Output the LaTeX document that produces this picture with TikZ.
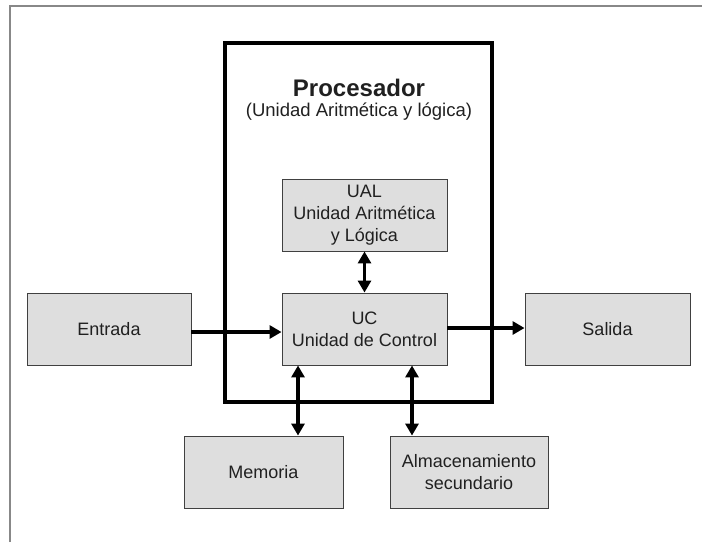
\documentclass[tikz,border=0pt]{standalone}
\usepackage{fontspec}
\setmainfont{Liberation Sans}
\usetikzlibrary{arrows.meta}
\definecolor{boxfill}{HTML}{DEDEDE}
\definecolor{boxline}{HTML}{404040}
\definecolor{framegray}{HTML}{888888}
\definecolor{txt}{HTML}{202020}
\tikzset{
  unit/.style={draw=boxline, fill=boxfill, line width=0.9pt, minimum height=72pt,
    align=center, inner sep=0pt, text=txt, font=\fontsize{18}{22}\selectfont},
  arr/.style={line width=3.8pt, -{Triangle[length=12pt,width=13pt]}},
  biarr/.style={line width=3.8pt, {Triangle[length=12pt,width=13pt]}-{Triangle[length=12pt,width=13pt]}},
}
\begin{document}
\begin{tikzpicture}[x=1pt,y=-1pt]
\useasboundingbox (0,0) rectangle (702,542);
% page frame
\coordinate (fbl) at (10,542);
\coordinate (ftl) at (10,6);
\coordinate (ftr) at (702,6);
\draw[framegray, line width=1.2pt] (fbl) -- (ftl) -- (ftr);
% processor
\node[draw=black, line width=3.6pt, minimum width=267pt, minimum height=359pt, inner sep=0pt] (proc) at (358.5,222.5) {};
\node[text=txt, font=\bfseries\fontsize{24}{28}\selectfont] (ptitle) at (359,88) {Procesador};
\node[text=txt, font=\fontsize{18.5}{22}\selectfont] (psub) at (359,112) {(Unidad Aritmética y lógica)};
% units
\node[unit, minimum width=165pt] (ual) at (364.5,215) {UAL\\Unidad Aritmética\\y Lógica};
\node[unit, minimum width=165pt] (uc) at (364.5,329) {UC\\Unidad de Control};
\node[unit, minimum width=164pt] (ent) at (109,329) {Entrada};
\node[unit, minimum width=165pt] (sal) at (607.5,329) {Salida};
\node[unit, minimum width=159pt] (mem) at (263.5,472) {Memoria};
\node[unit, minimum width=158pt] (alm) at (469,472) {Almacenamiento\\secundario};
% connectors
\draw[arr] ([yshift=-3pt]ent.east) -- ([yshift=-3pt]uc.west);
\draw[arr] ([yshift=1pt]uc.east) -- ([yshift=1pt]sal.west);
\draw[biarr] (ual.south) -- (uc.north);
\draw[biarr] ([xshift=-66.5pt]uc.south) -- ([xshift=34.5pt]mem.north);
\draw[biarr] ([xshift=47.5pt]uc.south) -- ([xshift=-57pt]alm.north);
\end{tikzpicture}
\end{document}
